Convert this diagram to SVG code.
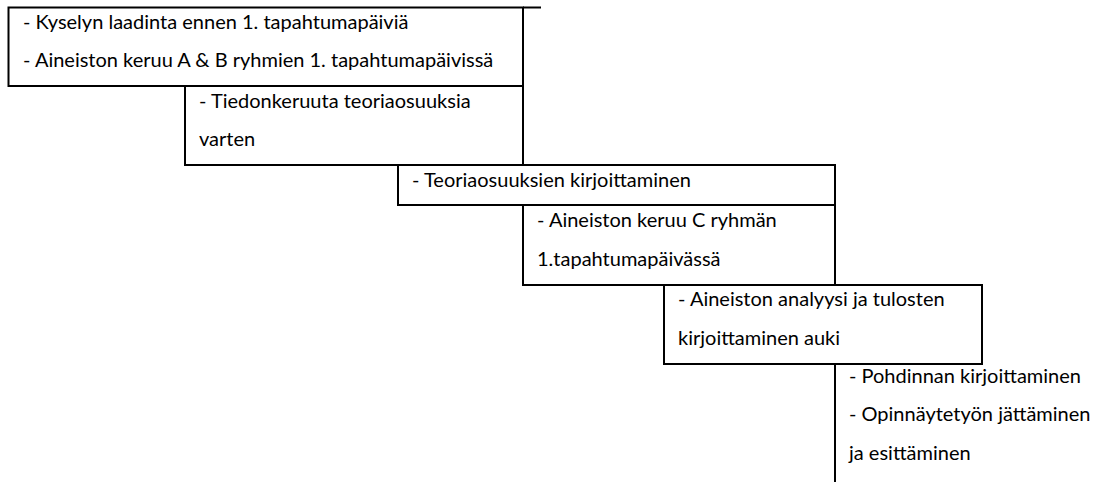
<svg xmlns="http://www.w3.org/2000/svg" width="1105" height="482" viewBox="0 0 1105 482">
<style>
.box{fill:none;stroke:#000;stroke-width:2}
.ln{stroke:#000;stroke-width:2;fill:none}
text{font-family:Lato,"Liberation Sans",sans-serif;font-size:20px;fill:#000}
</style>
<rect width="1105" height="482" fill="#fff"/>
<g id="connectors">
<line class="ln" x1="523" y1="7.5" x2="541" y2="7.5"/>
</g>
<g id="node1">
<rect class="box" x="8.5" y="7.5" width="514.5" height="78.5"/>
<text x="23" y="29">- Kyselyn laadinta ennen 1. tapahtumapäiviä</text>
<text x="23" y="67">- Aineiston keruu A &amp; B ryhmien 1. tapahtumapäivissä</text>
</g>
<g id="node2">
<rect class="box" x="185" y="86" width="338" height="79"/>
<text x="199" y="108">- Tiedonkeruuta teoriaosuuksia</text>
<text x="199" y="146">varten</text>
</g>
<g id="node3">
<rect class="box" x="398" y="165" width="437" height="40"/>
<text x="412" y="187">- Teoriaosuuksien kirjoittaminen</text>
</g>
<g id="node4">
<rect class="box" x="523" y="205" width="312" height="80"/>
<text x="537" y="227">- Aineiston keruu C ryhmän</text>
<text x="537" y="266">1.tapahtumapäivässä</text>
</g>
<g id="node5">
<rect class="box" x="664" y="285" width="318" height="79"/>
<text x="678" y="306">- Aineiston analyysi ja tulosten</text>
<text x="678" y="345">kirjoittaminen auki</text>
</g>
<g id="node6">
<line class="ln" x1="835" y1="364" x2="835" y2="482"/>
<text x="849" y="383">- Pohdinnan kirjoittaminen</text>
<text x="849" y="421">- Opinnäytetyön jättäminen</text>
<text x="849" y="460">ja esittäminen</text>
</g>
</svg>
